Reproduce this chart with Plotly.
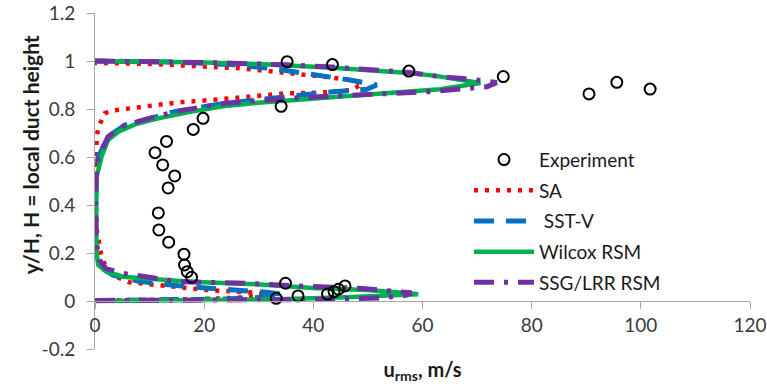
import plotly.graph_objects as go

# ---- Experimental data: u_rms (m/s) against y/H ----
exp_u = [35.2, 43.5, 57.5, 74.8, 90.5, 95.6, 101.7, 34.1, 19.8, 18.0, 13.1, 11.0,
         12.4, 14.6, 13.4, 11.6, 11.7, 13.5, 16.3, 16.4, 16.9, 17.7, 34.9, 33.2,
         37.2, 42.6, 43.8, 44.6, 45.8]
exp_y = [0.997, 0.985, 0.958, 0.935, 0.863, 0.911, 0.883, 0.811, 0.761, 0.715, 0.665, 0.618,
         0.567, 0.521, 0.471, 0.367, 0.296, 0.245, 0.195, 0.150, 0.122, 0.099, 0.074, 0.011,
         0.021, 0.029, 0.039, 0.049, 0.063]

# ---- SA model ----
sa_u = [0, 10, 20, 27, 31.5, 29.6, 20.4, 14.3, 8.5, 6.3, 3.5, 1.7, 1.1, 0.3, 0.1, 0.1,
        0.3, 0.8, 1.8, 3.0, 5.2, 9.1, 15.3, 21.4, 26.9, 31.2, 34.8, 41.2, 47.0, 49.0,
        47.0, 43.0, 38.8, 32.6, 26.5, 17.3, 10.0, 0]
sa_y = [0.002, 0.004, 0.008, 0.015, 0.028, 0.034, 0.046, 0.060, 0.072, 0.078, 0.105, 0.157,
        0.199, 0.300, 0.450, 0.600, 0.690, 0.733, 0.782, 0.793, 0.799, 0.8125, 0.828, 0.8375,
        0.849, 0.858, 0.865, 0.868, 0.879, 0.905, 0.920, 0.932, 0.942, 0.955, 0.970, 0.980,
        0.988, 0.992]

# ---- SST-V model ----
sst_u = [0, 12, 24, 31, 34.5, 31.5, 25.2, 16.7, 8.0, 3.3, 1.0, 0.2, 0.1, 0.1, 0.2, 0.6,
         2.4, 5.5, 14.6, 23.8, 36.1, 43.6, 49.8, 51.6, 46.7, 40.6, 32.0, 25.0, 15.0, 0]
sst_y = [0.002, 0.004, 0.008, 0.016, 0.028, 0.036, 0.046, 0.060, 0.082, 0.108, 0.140, 0.178,
         0.250, 0.450, 0.520, 0.600, 0.685, 0.733, 0.789, 0.824, 0.854, 0.872, 0.882, 0.900,
         0.921, 0.942, 0.970, 0.985, 0.995, 1.000]

# ---- Wilcox RSM ----
wil_u = [0, 20, 35, 46, 55, 59.2, 57.7, 49.8, 40.6, 29.6, 17.3, 11.2, 5.1, 2.1, 0.6, 0.3,
         0.2, 0.3, 1.2, 2.4, 4.3, 7.3, 11.6, 17.7, 23.8, 29.9, 36.1, 39.7, 50.0, 63.2, 70.6,
         62.4, 57.5, 43.5, 35.0, 30.0, 20.0, 10.0, 0]
wil_y = [0, 0.003, 0.008, 0.016, 0.023, 0.028, 0.032, 0.046, 0.053, 0.070, 0.080, 0.090,
         0.101, 0.122, 0.150, 0.200, 0.350, 0.518, 0.601, 0.671, 0.705, 0.736, 0.761, 0.789,
         0.8125, 0.826, 0.8375, 0.845, 0.860, 0.882, 0.908, 0.938, 0.950, 0.972, 0.983,
         0.987, 0.994, 0.998, 1.000]

# ---- SSG/LRR RSM ----
ssg_u = [0, 20, 40, 52, 57, 58, 55, 48.5, 37.5, 27.7, 15.5, 5.1, 2.0, 0.8, 0.2, 0.1, 0.3,
         0.6, 2.4, 5.5, 14.6, 23.8, 37.5, 48.5, 55.3, 60.8, 66.3, 71.8, 73.6, 68.7, 63.2,
         57.1, 43.5, 35.0, 20.0, 0]
ssg_y = [0.002, 0.003, 0.006, 0.012, 0.024, 0.034, 0.040, 0.053, 0.0625, 0.074, 0.080, 0.115,
         0.135, 0.171, 0.250, 0.450, 0.550, 0.600, 0.685, 0.733, 0.789, 0.824, 0.847, 0.858,
         0.867, 0.872, 0.882, 0.893, 0.910, 0.925, 0.935, 0.953, 0.975, 0.984, 0.994, 1.000]

# ---- Axis ticks ----
x_ticks = [0, 20, 40, 60, 80, 100, 120]
x_tick_text = ["0", "20", "40", "60", "80", "100", "120"]
y_ticks = [-0.2, 0, 0.2, 0.4, 0.6, 0.8, 1.0, 1.2]
y_tick_text = ["-0.2", "0", "0.2", "0.4", "0.6", "0.8", "1", "1.2"]

FONT = "Lato"
AXIS_GREY = "#a6a6a6"
TICK_COLOR = "#3a3a3a"
TEXT_COLOR = "#1a1a1a"

fig = go.Figure()

fig.add_trace(go.Scatter(
    x=sa_u, y=sa_y, mode="lines", name="SA", legendrank=2, legendgroup="sa",
    line=dict(color="#FF0000", width=4.5, dash="4px,7px")))
fig.add_trace(go.Scatter(
    x=sst_u, y=sst_y, mode="lines", name=" SST-V", legendrank=3, legendgroup="sst",
    line=dict(color="#0070C0", width=5, dash="20px,12px")))
fig.add_trace(go.Scatter(
    x=wil_u, y=wil_y, mode="lines", name="Wilcox RSM", legendrank=4, legendgroup="wil",
    line=dict(color="#00B050", width=4.5)))
fig.add_trace(go.Scatter(
    x=ssg_u, y=ssg_y, mode="lines", name="SSG/LRR RSM", legendrank=5, legendgroup="ssg",
    line=dict(color="#7030A0", width=5, dash="20px,10px,4px,10px")))
fig.add_trace(go.Scatter(
    x=exp_u, y=exp_y, mode="markers", name="Experiment", legendrank=1, legendgroup="exp",
    marker=dict(symbol="circle-open", size=11, color="black", line=dict(width=2))))

fig.update_layout(
    width=767, height=384,
    margin=dict(l=95, r=17, t=13, b=35),
    paper_bgcolor="white", plot_bgcolor="white",
    font=dict(family=FONT, size=19, color=TICK_COLOR),
    showlegend=True,
    legend=dict(
        x=0.571, y=0.62, xanchor="left", yanchor="top",
        itemwidth=60, bgcolor="rgba(0,0,0,0)",
        font=dict(family=FONT, size=19, color=TEXT_COLOR),
        traceorder="grouped", tracegroupgap=3,
    ),
    xaxis=dict(
        range=[0, 120], tickvals=x_ticks, ticktext=x_tick_text,
        showline=True, linecolor=AXIS_GREY, linewidth=1,
        ticks="outside", ticklen=7, tickcolor=AXIS_GREY,
        showgrid=False, zeroline=False, automargin=False,
        anchor="free", position=0.2 / 1.4,
        tickfont=dict(family=FONT, size=19, color=TICK_COLOR),
        title=dict(text="<b>u<sub>rms</sub>, m/s</b>", standoff=28,
                   font=dict(family=FONT, size=20, color=TEXT_COLOR)),
    ),
    yaxis=dict(
        range=[-0.2, 1.2], tickvals=y_ticks, ticktext=y_tick_text,
        showline=True, linecolor=AXIS_GREY, linewidth=1,
        ticks="outside", ticklen=7, tickcolor=AXIS_GREY,
        ticklabelstandoff=8, automargin=False,
        showgrid=False, zeroline=False,
        tickfont=dict(family=FONT, size=19, color=TICK_COLOR),
    ),
    annotations=[dict(
        text="<b>y/H, H = local duct height</b>", textangle=-90,
        xref="paper", yref="paper", x=-0.099, y=0.577,
        xanchor="center", yanchor="middle", showarrow=False,
        font=dict(family=FONT, size=21, color=TEXT_COLOR),
    )],
)

fig.write_html("out.html")
